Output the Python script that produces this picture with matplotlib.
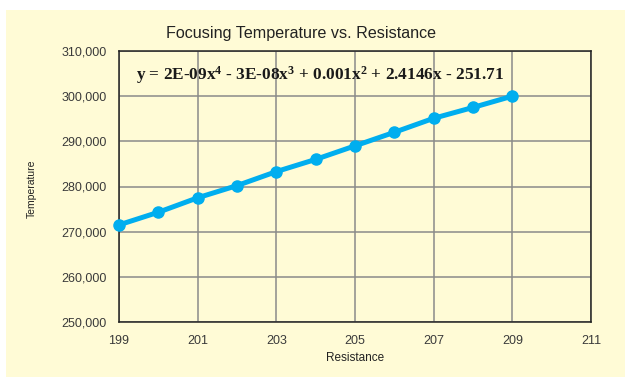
import matplotlib
matplotlib.use("Agg")
import matplotlib.pyplot as plt
from matplotlib.patches import Rectangle

# values
resistance = [199, 200, 201, 202, 203, 204, 205, 206, 207, 208, 209]
temperature = [271500, 274300, 277500, 280200, 283300, 286000,
               289000, 292000, 295100, 297500, 300000]
x_ticks = [199, 201, 203, 205, 207, 209, 211]
y_ticks = [250000, 260000, 270000, 280000, 290000, 300000, 310000]

plt.rcParams['font.family'] = ['Liberation Sans', 'DejaVu Sans']
plt.rcParams['mathtext.fontset'] = 'custom'
plt.rcParams['mathtext.rm'] = 'Liberation Serif:bold'
plt.rcParams['mathtext.it'] = 'Liberation Serif:bold'
plt.rcParams['mathtext.bf'] = 'Liberation Serif:bold'

cream = '#FFFBD6'
fig = plt.figure(figsize=(6.27, 3.84), dpi=100)
fig.patch.set_facecolor('white')
fig.patches.append(Rectangle((6 / 627, 1 - 377 / 384), 619 / 627, 367 / 384,
                             transform=fig.transFigure, facecolor=cream,
                             edgecolor='none', zorder=-5))

ax = fig.add_axes([119 / 627, 1 - 322 / 384, 472 / 627, 271 / 384])
ax.set_facecolor(cream)

ax.plot(resistance, temperature, color='#00AEEF', lw=3.6,
        marker='o', ms=8, solid_capstyle='round', zorder=3, clip_on=False)

ax.set_xlim(199, 211)
ax.set_ylim(250000, 310000)
ax.set_xticks(x_ticks)
ax.set_yticks(y_ticks)
ax.set_yticklabels([f"{v:,}" for v in y_ticks])
ax.grid(True, color='#8a8a8a', lw=1.1)
ax.set_axisbelow(True)
ax.tick_params(length=0, labelsize=9, colors='#3a3a3a', pad=9)
for s in ax.spines.values():
    s.set_color('#222222')
    s.set_linewidth(1.1)

ax.set_xlabel('Resistance', fontsize=8.5, color='#222222', labelpad=4)
ax.set_ylabel('Temperature', fontsize=7.5, color='#222222')
ax.yaxis.set_label_coords(-0.175, 0.49)

fig.text(0.48, 0.914, 'Focusing Temperature vs. Resistance', ha='center',
         va='center', fontsize=11.6, color='#222222')
fig.text(0.511, 0.805,
         r'y = 2E-09x$^{4}$ - 3E-08x$^{3}$ + 0.001x$^{2}$ + 2.4146x - 251.71',
         ha='center', va='center', fontsize=12.4, color='#1a1a1a',
         family='Liberation Serif', weight='bold')

fig.savefig('out.png', dpi=100)
